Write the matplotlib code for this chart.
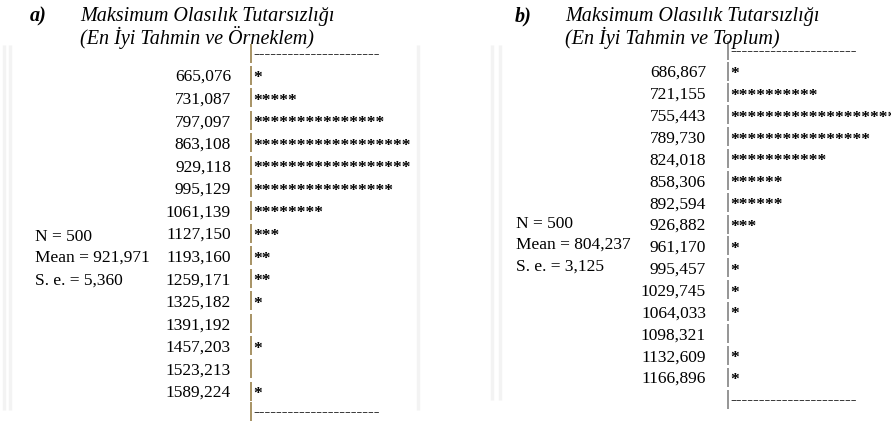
import matplotlib
matplotlib.use("Agg")
import matplotlib.pyplot as plt

# ---------------- data ----------------
labels_a = ["665,076", "731,087", "797,097", "863,108", "929,118", "995,129",
            "1061,139", "1127,150", "1193,160", "1259,171", "1325,182",
            "1391,192", "1457,203", "1523,213", "1589,224"]
stars_a = [1, 5, 15, 18, 18, 16, 8, 3, 2, 2, 1, 0, 1, 0, 1]
stats_a = ["N = 500", "Mean = 921,971", "S. e. = 5,360"]
title_a = ["Maksimum Olasılık Tutarsızlığı", "(En İyi Tahmin ve Örneklem)"]

labels_b = ["686,867", "721,155", "755,443", "789,730", "824,018", "858,306",
            "892,594", "926,882", "961,170", "995,457", "1029,745",
            "1064,033", "1098,321", "1132,609", "1166,896"]
stars_b = [1, 10, 20, 16, 11, 6, 6, 3, 1, 1, 1, 1, 0, 1, 1]
stats_b = ["N = 500", "Mean = 804,237", "S. e. = 3,125"]
title_b = ["Maksimum Olasılık Tutarsızlığı", "(En İyi Tahmin ve Toplum)"]

SERIF = ["Liberation Serif", "DejaVu Serif"]

fig = plt.figure(figsize=(8.91, 4.28), dpi=100)
ax = fig.add_axes([0, 0, 1, 1])
ax.set_xlim(0, 891)
ax.set_ylim(428, 0)
ax.axis("off")

# faint page-edge strips
for x0, y0, y1 in [(4, 45, 410), (10, 45, 410), (418, 45, 410),
                   (492, 45, 400), (500, 45, 400)]:
    ax.plot([x0, x0], [y0, y1], color="#f3f3f3", lw=2.5, solid_capstyle="butt")


def panel(tag, x_tag, x_title, title, labels, stars, stats,
          x_lab, x_bar, y_first, y_last, y_top, y_bot, x_stats, y_stats,
          bar_color):
    # titles
    ax.text(x_tag, 21, tag, fontsize=14.5, fontstyle="italic", fontweight="bold",
            family=SERIF, va="baseline", ha="left")
    ax.text(x_title, 21, title[0], fontsize=14.5, fontstyle="italic",
            family=SERIF, va="baseline", ha="left")
    ax.text(x_title, 44, title[1], fontsize=14.5, fontstyle="italic",
            family=SERIF, va="baseline", ha="left")
    n = len(labels)
    step = (y_last - y_first) / (n - 1)
    fs = 12.5
    rows_y = [y_top] + [y_first + i * step for i in range(n)] + [y_bot]
    for y in rows_y:
        ax.plot([x_bar, x_bar], [y - 9.5, y + 9.5], color=bar_color, lw=1.3,
                solid_capstyle="butt")
    for i, (lab, k) in enumerate(zip(labels, stars)):
        y = y_first + i * step
        base = y + 6
        ax.text(x_lab, base, lab, fontsize=fs, family=SERIF, ha="right",
                va="baseline")
        if k:
            ax.text(x_bar + 2.5, base + 1, "*" * k, fontsize=fs, family=SERIF,
                    fontweight="bold", ha="left", va="baseline")
    for y in (y_top, y_bot):
        ax.text(x_bar + 2.5, y + 5, "-" * 22, fontsize=fs, family=SERIF,
                ha="left", va="baseline")
    for j, s in enumerate(stats):
        ax.text(x_stats, y_stats[j] + 6, s, fontsize=fs, family=SERIF,
                ha="left", va="baseline")


panel("a)", 30, 80, title_a, labels_a, stars_a, stats_a,
      x_lab=231, x_bar=250.5, y_first=75, y_last=391, y_top=53, y_bot=411,
      x_stats=35, y_stats=[235, 256, 279], bar_color="#a08a58")
panel("b)", 515, 565, title_b, labels_b, stars_b, stats_b,
      x_lab=706, x_bar=727.5, y_first=71, y_last=377, y_top=50, y_bot=399,
      x_stats=516, y_stats=[222, 243, 265], bar_color="#8c8c8c")

fig.savefig("out.png", dpi=100, facecolor="white")
